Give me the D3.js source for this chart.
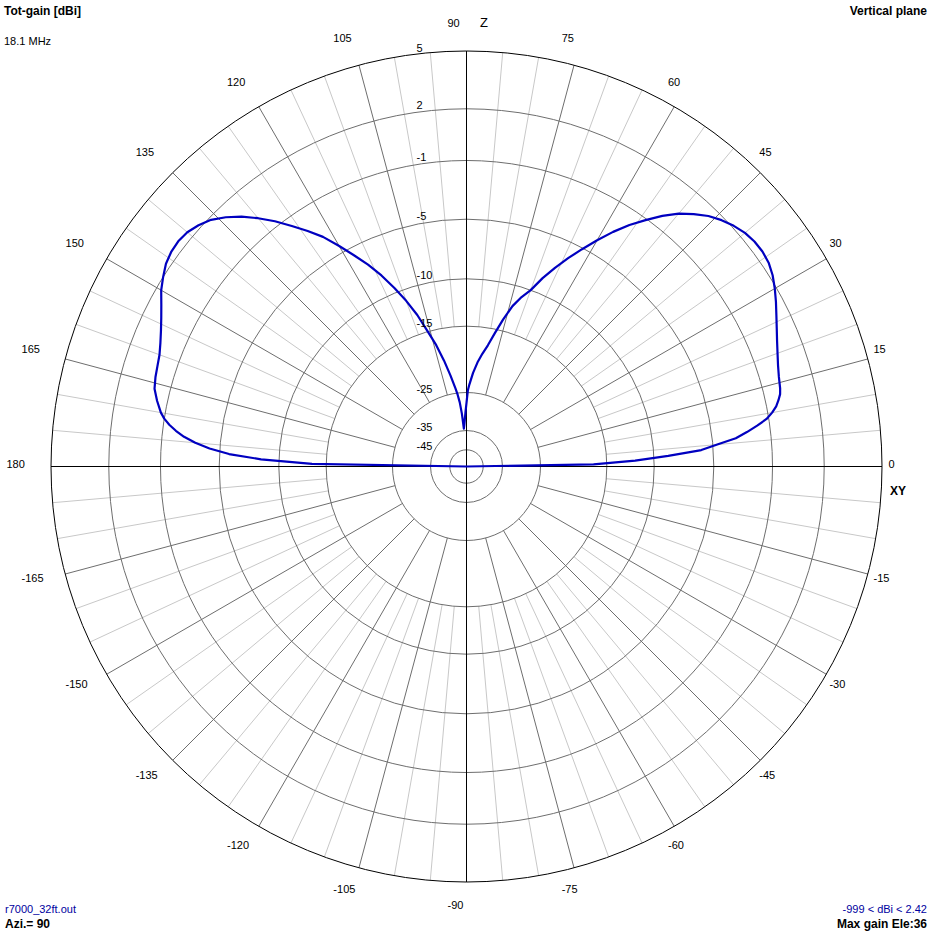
<!DOCTYPE html>
<html><head><meta charset="utf-8">
<script src="https://cdn.jsdelivr.net/npm/d3@7"></script>
<style>html,body{margin:0;padding:0;background:#fff;}svg{display:block;font-family:"Liberation Sans",Arial,sans-serif;}</style>
</head><body><svg id="c" width="932" height="932"></svg>
<script>
// ---- data ----
const ringGains = [5, 2, -1, -5, -10, -15, -25, -35, -45];
const angleLabels = [0,15,30,45,60,75,90,105,120,135,150,165,180,-165,-150,-135,-120,-105,-90,-75,-60,-45,-30,-15];
const elevation = [0,1,2,3,4,5,6,7,8,9,10,11,12,13,14,16,18,20,22,24,26,28,30,32,34,36,38,40,42,44,46,48,50,52,54,56,58,60,62,64,66,68,70,72,74,76,78,80,82,84,86,88,89,90,91,92,93,94,95,96,97,98,100,102,104,106,108,110,112,114,116,118,120,122,124,126,128,130,132,134,136,138,140,142,144,146,148,150,152,154,156,158,160,162,164,166,168,170,171,172,173,174,175,176,177,178,179,180];
const gainDbi = [-999,-17,-12,-8.8,-6.0,-4.7,-3.4,-2.6,-1.85,-1.15,-0.75,-0.45,-0.25,-0.08,0.0,0.1,0.25,0.45,0.68,0.95,1.25,1.58,1.9,2.17,2.35,2.42,2.4,2.3,2.1,1.82,1.45,0.95,0.4,-0.3,-1.1,-2.0,-3.0,-4.05,-5.1,-6.3,-7.5,-8.7,-10.0,-11.0,-12.2,-13.8,-15.6,-17.6,-19.0,-20.4,-22.0,-23.8,-24.7,-27.7,-30,-32,-33.5,-34.5,-30.5,-27.5,-25.5,-24.3,-22.2,-19.8,-17.3,-15.0,-13.0,-11.2,-9.6,-8.2,-6.9,-5.7,-4.5,-3.4,-2.5,-1.6,-0.7,0.05,0.75,1.35,1.85,2.15,2.35,2.42,2.38,2.25,2.0,1.7,1.3,0.95,0.65,0.4,0.2,0.1,0.02,-0.1,-0.4,-0.75,-1.0,-1.4,-1.9,-2.5,-3.3,-4.3,-5.8,-8.5,-13.5,-999];
const titleLeft = "Tot-gain [dBi]";
const freqText = "18.1 MHz";
const titleRight = "Vertical plane";
const fileText = "r7000_32ft.out";
const aziText = "Azi.= 90";
const rangeText = "-999 < dBi < 2.42";
const maxText = "Max gain Ele:36";

// ---- layout ----
const cx = 466.5, cy = 466.5, R = 415.5;
const ringFrac = [1, 0.8609, 0.7365, 0.5952, 0.4517, 0.3377, 0.1781, 0.0866, 0.0402];

const svg = d3.select("#c");
const rScale = d3.scaleLinear()
  .domain([-999].concat(ringGains.slice().reverse()))
  .range([0].concat(ringFrac.slice().reverse().map(f => f * R)))
  .clamp(true);
const rad = d => d * Math.PI / 180;
const px = (a, r) => cx + r * Math.cos(rad(a));
const py = (a, r) => cy - r * Math.sin(rad(a));

const g = svg.append("g");
// light spokes every 5 deg
const light = d3.range(0, 360, 5).filter(a => a % 15 !== 0);
g.selectAll("line.l").data(light).join("line")
  .attr("x1", a => px(a, rScale(-15))).attr("y1", a => py(a, rScale(-15)))
  .attr("x2", a => px(a, R)).attr("y2", a => py(a, R))
  .attr("stroke", "#c8c8c8").attr("stroke-width", 1);
// dark spokes every 15 deg
const dark = d3.range(0, 360, 15).filter(a => a % 90 !== 0);
g.selectAll("line.d").data(dark).join("line")
  .attr("x1", a => px(a, rScale(-25))).attr("y1", a => py(a, rScale(-25)))
  .attr("x2", a => px(a, R)).attr("y2", a => py(a, R))
  .attr("stroke", "#6e6e6e").attr("stroke-width", 1);
// rings
g.selectAll("circle.r").data(ringGains.slice(1)).join("circle")
  .attr("cx", cx).attr("cy", cy).attr("r", d => rScale(d))
  .attr("fill", "none").attr("stroke", "#6e6e6e").attr("stroke-width", 1);
// axes
g.append("line").attr("x1", cx - R).attr("x2", cx + R).attr("y1", cy).attr("y2", cy).attr("stroke", "#000");
g.append("line").attr("x1", cx).attr("x2", cx).attr("y1", cy - R).attr("y2", cy + R).attr("stroke", "#000");
g.append("circle").attr("cx", cx).attr("cy", cy).attr("r", R).attr("fill", "none").attr("stroke", "#000");

// pattern curve
const pts = elevation.map((e, i) => [px(e, rScale(gainDbi[i])), py(e, rScale(gainDbi[i]))]);
svg.append("path").attr("d", d3.line()(pts))
  .attr("fill", "none").attr("stroke", "#0000c0").attr("stroke-width", 2.2).attr("stroke-linejoin", "round");

// angle labels
svg.selectAll("text.ang").data(angleLabels).join("text")
  .attr("x", a => cx - 19 + 441 * Math.cos(rad(a)))
  .attr("y", a => cy - 3 - 441 * Math.sin(rad(a)) + 4)
  .attr("font-size", 11).attr("fill", "#000").text(a => a);
// ring gain labels
svg.selectAll("text.gl").data(ringGains).join("text")
  .attr("x", cx - 50).attr("y", d => cy - rScale(d) + 0.5)
  .attr("font-size", 11).attr("fill", "#000").text(d => d);

svg.append("text").attr("x", 480).attr("y", 26.5).attr("font-size", 13).text("Z");
svg.append("text").attr("x", 890).attr("y", 495).attr("font-size", 12).attr("font-weight", "bold").text("XY");

svg.append("text").attr("x", 4).attr("y", 15).attr("font-size", 12).attr("font-weight", "bold").text(titleLeft);
svg.append("text").attr("x", 4).attr("y", 45).attr("font-size", 11).text(freqText);
svg.append("text").attr("x", 927).attr("y", 15).attr("font-size", 12).attr("font-weight", "bold").attr("text-anchor", "end").text(titleRight);
svg.append("text").attr("x", 5).attr("y", 913).attr("font-size", 11).attr("fill", "#0000a0").text(fileText);
svg.append("text").attr("x", 5).attr("y", 928).attr("font-size", 12).attr("font-weight", "bold").text(aziText);
svg.append("text").attr("x", 927).attr("y", 913).attr("font-size", 11).attr("fill", "#0000a0").attr("text-anchor", "end").text(rangeText);
svg.append("text").attr("x", 927).attr("y", 928).attr("font-size", 12).attr("font-weight", "bold").attr("text-anchor", "end").text(maxText);
</script></body></html>
